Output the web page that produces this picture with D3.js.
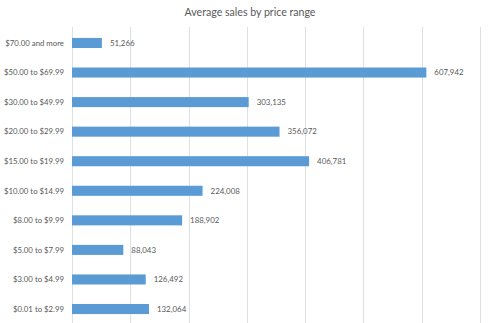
<!DOCTYPE html>
<html><head><meta charset="utf-8">
<script src="https://cdn.jsdelivr.net/npm/d3@7"></script>
<style>body{margin:0;background:#fff;} text{font-family:Lato, "Open Sans", sans-serif;}</style>
</head><body>
<svg id="c" width="500" height="323"></svg>
<script>
const categories = ["$70.00 and more","$50.00 to $69.99","$30.00 to $49.99","$20.00 to $29.99","$15.00 to $19.99","$10.00 to $14.99","$8.00 to $9.99","$5.00 to $7.99","$3.00 to $4.99","$0.01 to $2.99"];
const values = [51266,607942,303135,356072,406781,224008,188902,88043,126492,132064];
const xTicks = [0,100000,200000,300000,400000,500000,600000,700000];
const title = "Average sales by price range";

const svg = d3.select("#c");
const x = d3.scaleLinear().domain([0,700000]).range([72,480]);
const y = d3.scaleBand().domain(categories).range([28.2,323.8]).paddingInner(0.66).paddingOuter(0.33);

svg.append("g").selectAll("line").data(xTicks).join("line")
  .attr("x1",d=>Math.round(x(d))+0.5).attr("x2",d=>Math.round(x(d))+0.5)
  .attr("y1",27).attr("y2",323).attr("stroke","#e0e0e0").attr("stroke-width",1);

svg.append("text").attr("x",250).attr("y",16).attr("text-anchor","middle")
  .attr("font-size","10.6px").attr("fill","#595959").text(title);

svg.append("g").selectAll("rect").data(values).join("rect")
  .attr("x",x(0)).attr("y",(d,i)=>y(categories[i]))
  .attr("width",d=>x(d)-x(0)).attr("height",y.bandwidth()).attr("fill","#5B9BD5");

svg.append("g").selectAll("text").data(categories).join("text")
  .attr("x",64).attr("y",d=>y(d)+y.bandwidth()/2).attr("dy","0.35em")
  .attr("text-anchor","end").attr("font-size","7.8px").attr("fill","#595959").text(d=>d);

svg.append("g").selectAll("text").data(values).join("text")
  .attr("x",d=>x(d)+8).attr("y",(d,i)=>y(categories[i])+y.bandwidth()/2).attr("dy","0.35em")
  .attr("font-size","7.9px").attr("fill","#595959").text(d=>d3.format(",")(d));
</script>
</body></html>
